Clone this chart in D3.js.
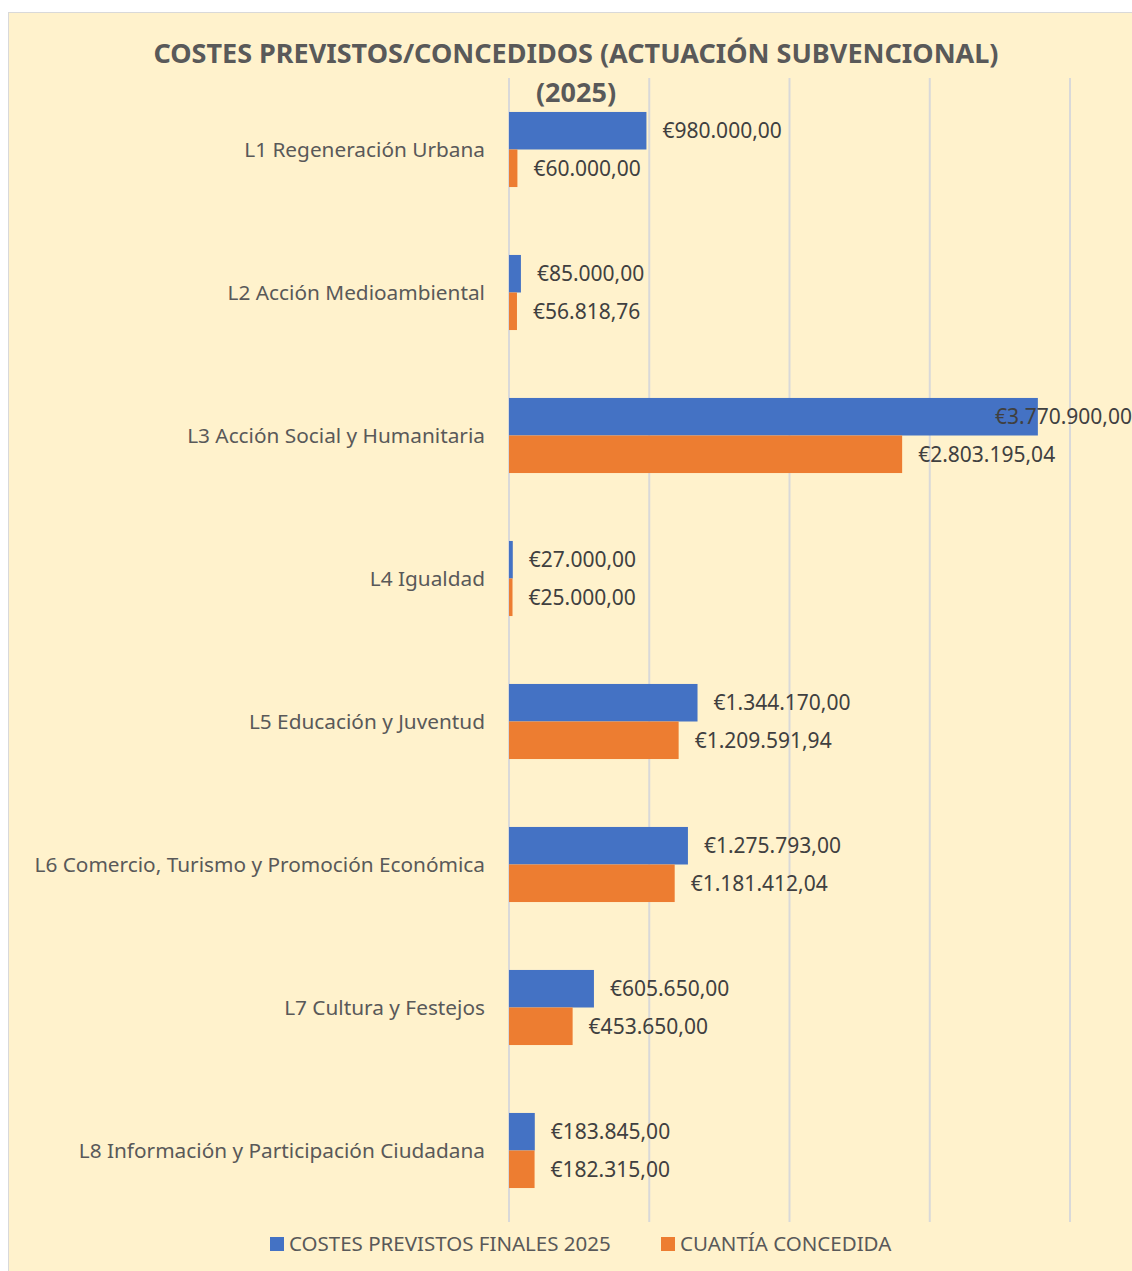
<!DOCTYPE html>
<html>
<head>
<meta charset="utf-8">
<script src="https://cdn.jsdelivr.net/npm/d3@7"></script>
<style>
  body { margin: 0; background: #fff; }
  svg { display: block; font-family: "Noto Sans", "Open Sans", sans-serif; }
</style>
</head>
<body>
<svg id="chart" width="1132" height="1271"></svg>
<script>
const categories = [
  'L1 Regeneración Urbana',
  'L2 Acción Medioambiental',
  'L3 Acción Social y Humanitaria',
  'L4 Igualdad',
  'L5 Educación y Juventud',
  'L6 Comercio, Turismo y Promoción Económica',
  'L7 Cultura y Festejos',
  'L8 Información y Participación Ciudadana'
];
const previstos = [980000, 85000, 3770900, 27000, 1344170, 1275793, 605650, 183845];
const concedida = [60000, 56818.76, 2803195.04, 25000, 1209591.94, 1181412.04, 453650, 182315];
const seriesNames = ['COSTES PREVISTOS FINALES 2025', 'CUANTÍA CONCEDIDA'];
const xTicks = [0, 1000000, 2000000, 3000000, 4000000];

const colors = ['#4472C4', '#ED7D31'];
const svg = d3.select('#chart');

// euro formatting, spanish style
const locale = d3.formatLocale({ decimal: ',', thousands: '.', grouping: [3], currency: ['€', ''] });
const fmt = locale.format('$,.2f');

// chart frame
svg.append('rect')
  .attr('x', 8.5).attr('y', 12.5)
  .attr('width', 1140).attr('height', 1270)
  .attr('fill', '#FFF2CC')
  .attr('stroke', '#D9D9D9');

const plot = { left: 509, right: 1070, top: 78, bottom: 1222 };

const x = d3.scaleLinear().domain([0, 4000000]).range([plot.left, plot.right]);
const y = d3.scaleBand().domain(categories).range([plot.top, plot.bottom]).paddingInner(0.475).paddingOuter(0.2375);
const ySub = d3.scaleBand().domain([0, 1]).range([0, y.bandwidth()]);

// gridlines
svg.append('g')
  .selectAll('line')
  .data(xTicks)
  .join('line')
  .attr('x1', d => x(d)).attr('x2', d => x(d))
  .attr('y1', plot.top).attr('y2', plot.bottom)
  .attr('stroke', '#D9D9D9')
  .attr('stroke-width', 2);

// title
const title = svg.append('text')
  .attr('text-anchor', 'middle')
  .attr('fill', '#595959')
  .attr('font-weight', 700)
  .attr('font-size', 27);
title.append('tspan').attr('x', 576).attr('y', 63).text('COSTES PREVISTOS/CONCEDIDOS (ACTUACIÓN SUBVENCIONAL)');
title.append('tspan').attr('x', 576).attr('y', 102).text('(2025)');

// category labels
svg.append('g')
  .selectAll('text')
  .data(categories)
  .join('text')
  .attr('x', 485)
  .attr('y', d => y(d) + y.bandwidth() / 2)
  .attr('dy', '0.35em')
  .attr('text-anchor', 'end')
  .attr('fill', '#595959')
  .attr('font-size', 20.8)
  .text(d => d);

const rows = categories.map((c, i) => ({ cat: c, values: [previstos[i], concedida[i]] }));

const groups = svg.append('g')
  .selectAll('g')
  .data(rows)
  .join('g')
  .attr('transform', d => `translate(0,${y(d.cat)})`);

groups.selectAll('rect')
  .data(d => d.values.map((v, s) => ({ v, s })))
  .join('rect')
  .attr('x', x(0))
  .attr('y', d => ySub(d.s))
  .attr('width', d => x(d.v) - x(0))
  .attr('height', ySub.bandwidth())
  .attr('fill', d => colors[d.s]);

groups.selectAll('text')
  .data(d => d.values.map((v, s) => ({ v, s })))
  .join('text')
  .attr('y', d => ySub(d.s) + ySub.bandwidth() / 2)
  .attr('dy', '0.35em')
  .attr('fill', '#404040')
  .attr('font-size', 21)
  .text(d => fmt(d.v))
  .each(function (d) {
    const el = d3.select(this);
    const w = this.getComputedTextLength();
    let tx = x(d.v) + 16;
    if (tx + w > 1135) tx = 995; // Excel pulls overflowing labels back in
    el.attr('x', tx);
  });

// legend
const legend = svg.append('g').attr('transform', 'translate(0,1244)');
const legendX = [270, 661];
seriesNames.forEach((name, i) => {
  legend.append('rect')
    .attr('x', legendX[i]).attr('y', -7)
    .attr('width', 14).attr('height', 14)
    .attr('fill', colors[i]);
  legend.append('text')
    .attr('x', legendX[i] + 19).attr('y', 0)
    .attr('dy', '0.35em')
    .attr('fill', '#595959')
    .attr('font-size', 20.5)
    .text(name);
});
</script>
</body>
</html>
